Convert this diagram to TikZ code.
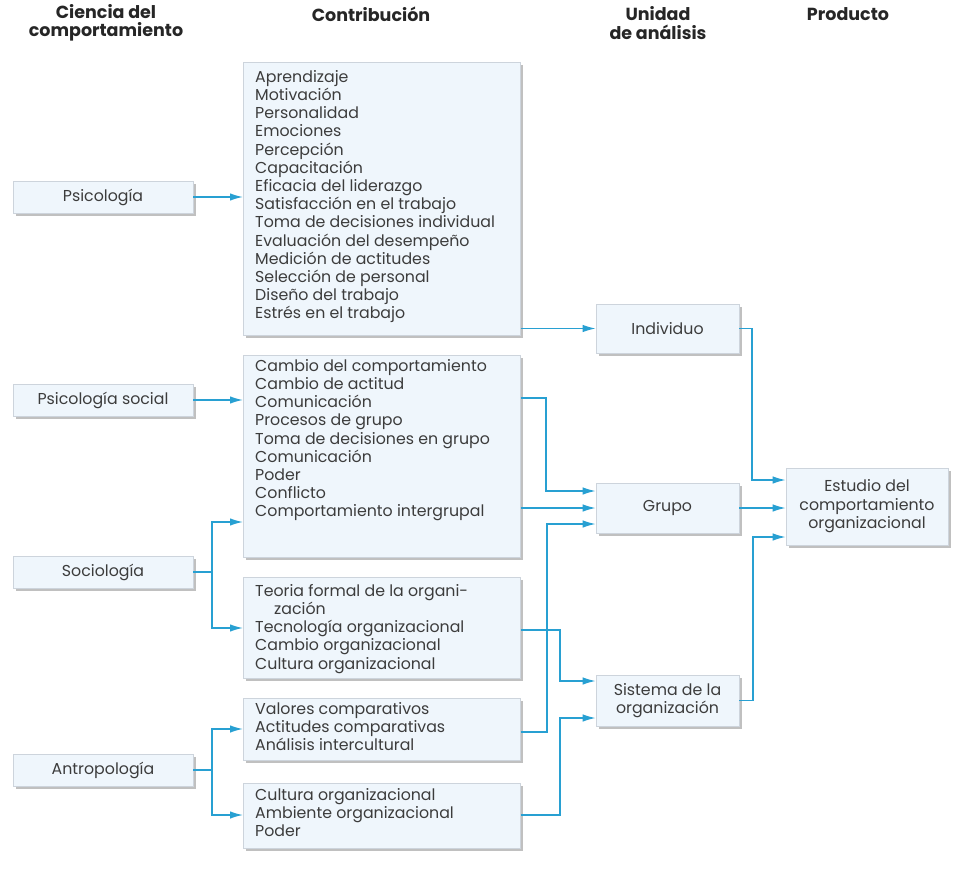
\documentclass[tikz,border=0pt]{standalone}
\usepackage{fontspec}
\setmainfont{Poppins}
\usetikzlibrary{arrows.meta,shadows}
\definecolor{arr}{RGB}{40,160,210}
\definecolor{boxfill}{RGB}{239,246,252}
\definecolor{boxline}{RGB}{205,212,220}
\definecolor{txt}{RGB}{60,60,60}
\begin{document}
\begin{tikzpicture}[x=1pt,y=-1pt,
  box/.style={draw=boxline, line width=0.6pt, fill=boxfill, inner sep=0,
    drop shadow={shadow xshift=3pt, shadow yshift=-3pt, fill=black!45, opacity=0.55}},
  lst/.style={font=\fontsize{15.8}{18.2}\selectfont, align=left, inner sep=0, anchor=north west, text=txt},
  lbl/.style={font=\fontsize{15.8}{18.5}\selectfont, align=center, inner sep=0, text=txt},
  hdr/.style={font=\fontsize{17.5}{18.5}\selectfont\bfseries, align=center, inner sep=0, text=black!85},
  conn/.style={draw=arr, line width=1.4pt, -{Latex[length=13pt,width=7.5pt]}},
  link/.style={draw=arr, line width=1.4pt}]
\useasboundingbox (0,0) rectangle (961,874);
% headers
\node[hdr] (h1) at (106,23) {Ciencia del\\comportamiento};
\node[hdr] (h2) at (371,14) {Contribución};
\node[hdr] (h3) at (658,23) {Unidad\\de análisis};
\node[hdr] (h4) at (848,14) {Producto};
% left column
\node[box, minimum width=180pt, minimum height=32pt] (psi) at (103,197) {};
\node[lbl] (psit) at (psi) {Psicología};
\node[box, minimum width=180pt, minimum height=32pt] (psisoc) at (103,400) {};
\node[lbl] (psisoct) at (psisoc) {Psicología social};
\node[box, minimum width=180pt, minimum height=32pt] (soc) at (103,572) {};
\node[lbl] (soct) at (soc) {Sociología};
\node[box, minimum width=180pt, minimum height=32pt] (antro) at (103,770) {};
\node[lbl] (antrot) at (antro) {Antropología};
% contribution boxes
\node[box, minimum width=277pt, minimum height=273pt, anchor=north west] (b1) at (243,62) {};
\node[lst] (t1) at (255,70) {Aprendizaje\\Motivación\\Personalidad\\Emociones\\Percepción\\Capacitación\\Eficacia del liderazgo\\Satisfacción en el trabajo\\Toma de decisiones individual\\Evaluación del desempeño\\Medición de actitudes\\Selección de personal\\Diseño del trabajo\\Estrés en el trabajo};
\node[box, minimum width=277pt, minimum height=202pt, anchor=north west] (b2) at (243,355) {};
\node[lst] (t2) at (255,359) {Cambio del comportamiento\\Cambio de actitud\\Comunicación\\Procesos de grupo\\Toma de decisiones en grupo\\Comunicación\\Poder\\Conflicto\\Comportamiento intergrupal};
\node[box, minimum width=277pt, minimum height=101pt, anchor=north west] (b3) at (243,577) {};
\node[lst] (t3) at (255,584) {Teoria formal de la organi-\\\hspace*{1.2em}zación\\Tecnología organizacional\\Cambio organizacional\\Cultura organizacional};
\node[box, minimum width=277pt, minimum height=62pt, anchor=north west] (b4) at (243,698) {};
\node[lst] (t4) at (255,702) {Valores comparativos\\Actitudes comparativas\\Análisis intercultural};
\node[box, minimum width=277pt, minimum height=65pt, anchor=north west] (b5) at (243,783) {};
\node[lst] (t5) at (255,788) {Cultura organizacional\\Ambiente organizacional\\Poder};
% units
\node[box, minimum width=143pt, minimum height=49pt] (ind) at (667.5,328.5) {};
\node[lbl] (indt) at (ind) {Individuo};
\node[box, minimum width=143pt, minimum height=50pt] (gru) at (667.5,508) {};
\node[lbl] (grut) at (gru) {Grupo};
\node[box, minimum width=143pt, minimum height=51pt] (sis) at (667.5,700.5) {};
\node[lbl] (sist) at (sis) {Sistema de la\\organización};
% product
\node[box, minimum width=162pt, minimum height=77pt] (est) at (867,506.5) {};
\node[lbl] (estt) at (est) {Estudio del\\comportamiento\\organizacional};
% coordinates
\coordinate (sj) at (212,572);
\coordinate (aj) at (212,770);
\coordinate (i1) at (752,480);
\coordinate (s1) at (753,537);
\coordinate (g1) at (546,491);
\coordinate (g3) at (547,524);
\coordinate (y1) at (560,681);
\coordinate (y2) at (560,718);
% connectors
\draw[conn] (psi.east) -- (b1.west |- psi.east);
\draw[conn] (psisoc.east) -- (b2.west |- psisoc.east);
\draw[conn] (b1.east |- ind.west) -- (ind.west);
\draw[conn] (ind.east) -| (i1) -- (est.west |- i1);
\draw[conn] (gru.east) -- (est.west |- gru.east);
\draw[conn] (sis.east) -| (s1) -- (est.west |- s1);
\draw[conn] (b2.east |- 0,398) -| (g1) -- (gru.west |- g1);
\draw[conn] (b2.east |- gru.west) -- (gru.west);
\draw[conn] (b4.east |- 0,732) -| (g3) -- (gru.west |- g3);
\draw[conn] (b3.east |- 0,630) -| (y1) -- (sis.west |- y1);
\draw[conn] (b5.east |- 0,815) -| (y2) -- (sis.west |- y2);
\draw[link] (soc.east) -- (sj);
\draw[conn] (sj) |- (b2.west |- 0,522);
\draw[conn] (sj) |- (b3.west |- 0,628);
\draw[link] (antro.east) -- (aj);
\draw[conn] (aj) |- (b4.west |- 0,729);
\draw[conn] (aj) |- (b5.west |- 0,815);
\end{tikzpicture}
\end{document}
